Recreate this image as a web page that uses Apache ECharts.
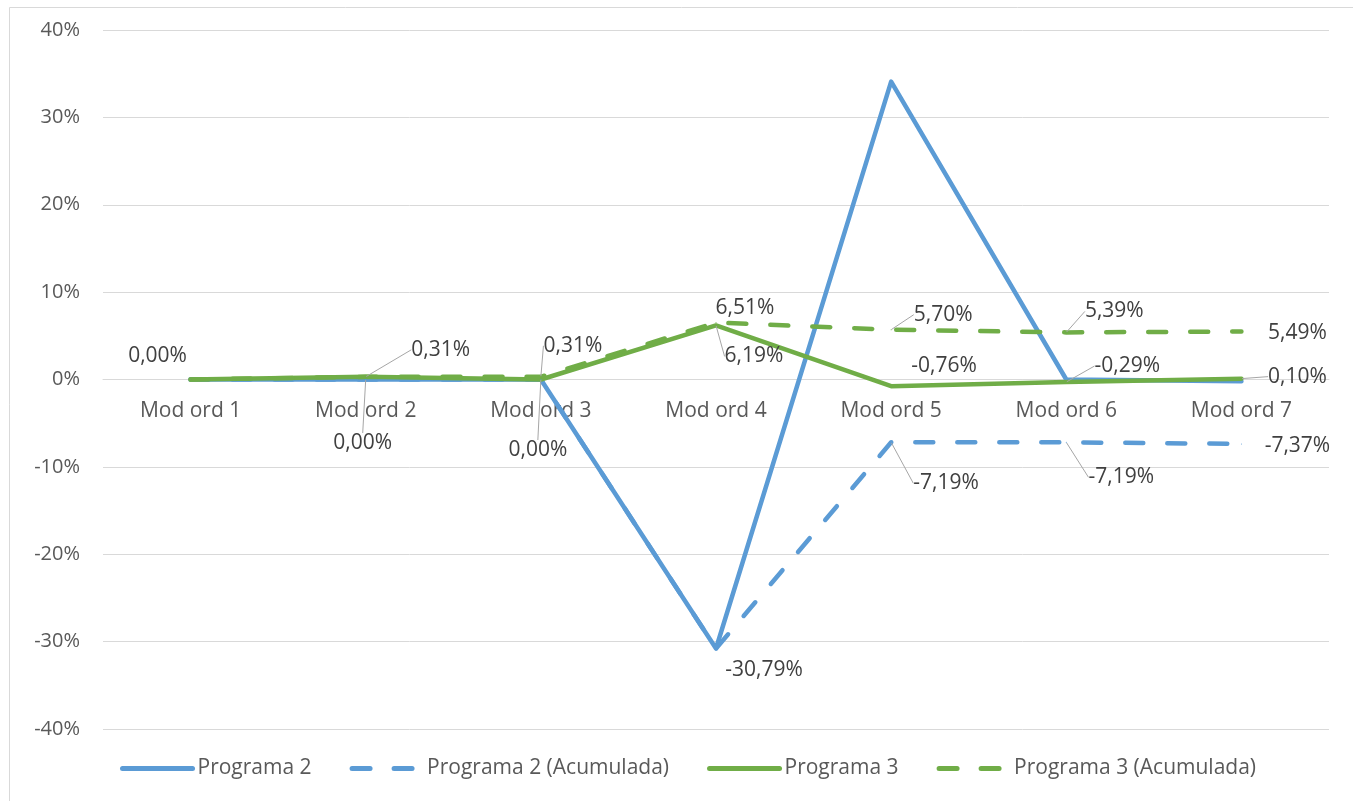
<!DOCTYPE html>
<html>
<head>
<meta charset="utf-8">
<title>Programa 2 / Programa 3</title>
<script src="https://cdn.jsdelivr.net/npm/echarts@6/dist/echarts.min.js"></script>
<style>
    html, body {margin: 0; padding: 0; background: #fff;}
    #chart {width: 1353px; height: 801px;}
</style>
</head>
<body>
<div id="chart"></div>
<script>
// categorias y valores (en %)
const categories = ['Mod ord 1', 'Mod ord 2', 'Mod ord 3', 'Mod ord 4', 'Mod ord 5', 'Mod ord 6', 'Mod ord 7'];
const programa2 = [0, 0, 0, -30.79, 34.10, 0, -0.19];
const programa2Acum = [0, 0, 0, -30.79, -7.19, -7.19, -7.37];
const programa3 = [0, 0.31, 0, 6.19, -0.76, -0.29, 0.10];
const programa3Acum = [0, 0.31, 0.31, 6.51, 5.70, 5.39, 5.49];
const seriesNames = ['Programa 2', 'Programa 2 (Acumulada)', 'Programa 3', 'Programa 3 (Acumulada)'];
const yMin = -40, yMax = 40, yStep = 10;

// desplazamiento de etiquetas [dx, dy, linea guia] por serie / indice
const labelPos = {
    1: {1: [-3, 64, true], 2: [-3, 71, true], 3: [48, 21, false], 4: [55, 41, true], 5: [55, 35, true], 6: [56, 2, false]},
    2: {3: [38, 31, true], 4: [53, -20, false], 5: [61, -16, true], 6: [56, -2, true]},
    3: {0: [-33, -23, false], 1: [75, -27, true], 2: [32, -31, true], 3: [29, -15, false], 4: [52, -15, true], 5: [48, -21, true], 6: [56, 1, false]}
};

const BLUE = '#5b9bd5', GREEN = '#70ad47';
const FONT = '"Open Sans", sans-serif';
const FS = 21;
const gridTop = 30, gridBottom = 72, H = 801;

const fmt = v => v.toFixed(2).replace('.', ',') + '%';

const buildData = (values, idx) => values.map((v, i) => {
    let p = labelPos[idx] && labelPos[idx][i];
    if (!p) return v;
    return {value: v, label: {show: true}, labelLine: {show: p[2]}};
});

const makeSeries = (idx, values, color, dashed) => ({
    name: seriesNames[idx],
    type: 'line',
    data: buildData(values, idx),
    symbol: 'circle',
    symbolSize: 1,
    showSymbol: true,
    itemStyle: {color: color},
    lineStyle: {color: color, width: 4.5, type: dashed ? [18, 24] : 'solid', cap: 'round', join: 'round'},
    emphasis: {disabled: true},
    label: {
        show: false,
        position: 'inside',
        formatter: p => fmt(p.value),
        color: '#404040',
        fontSize: FS,
        fontFamily: FONT
    },
    labelLine: {show: false, lineStyle: {color: '#a6a6a6', width: 1}},
    labelLayout: params => {
        let p = labelPos[params.seriesIndex] && labelPos[params.seriesIndex][params.dataIndex];
        return p ? {dx: p[0], dy: p[1]} : {};
    },
    animation: false
});

// eje X colocado sobre el 0
let plotH = H - gridTop - gridBottom;
let zeroOffset = -plotH * (0 - yMin) / (yMax - yMin);

let chart = echarts.init(document.getElementById('chart'));
chart.setOption({
    backgroundColor: '#fff',
    animation: false,
    graphic: [{
        type: 'rect',
        left: 7, top: 5,
        shape: {width: 1344, height: 800},
        style: {fill: 'none', stroke: '#d9d9d9', lineWidth: 1},
        silent: true
    }],
    grid: {left: 103, right: 24, top: gridTop, bottom: gridBottom, containLabel: false},
    legend: {
        bottom: 17,
        left: 115,
        itemWidth: 70,
        itemHeight: 6,
        itemGap: 38,
        itemStyle: {opacity: 0},
        lineStyle: {width: 5, cap: 'round'},
        textStyle: {color: '#595959', fontSize: FS, fontFamily: FONT},
        data: seriesNames
    },
    xAxis: {
        type: 'category',
        data: categories,
        boundaryGap: true,
        offset: zeroOffset,
        axisLine: {onZero: false, lineStyle: {color: '#d9d9d9', width: 1}},
        axisTick: {show: false},
        axisLabel: {color: '#595959', fontSize: FS, fontFamily: FONT, margin: 21}
    },
    yAxis: {
        type: 'value',
        min: yMin, max: yMax, interval: yStep,
        axisLine: {show: false},
        axisTick: {show: false},
        splitLine: {lineStyle: {color: '#d9d9d9', width: 1}},
        axisLabel: {color: '#595959', fontSize: 20, fontFamily: FONT, margin: 23, formatter: '{value}%'}
    },
    series: [
        makeSeries(0, programa2, BLUE, false),
        makeSeries(1, programa2Acum, BLUE, true),
        makeSeries(2, programa3, GREEN, false),
        makeSeries(3, programa3Acum, GREEN, true)
    ]
});
</script>
</body>
</html>
